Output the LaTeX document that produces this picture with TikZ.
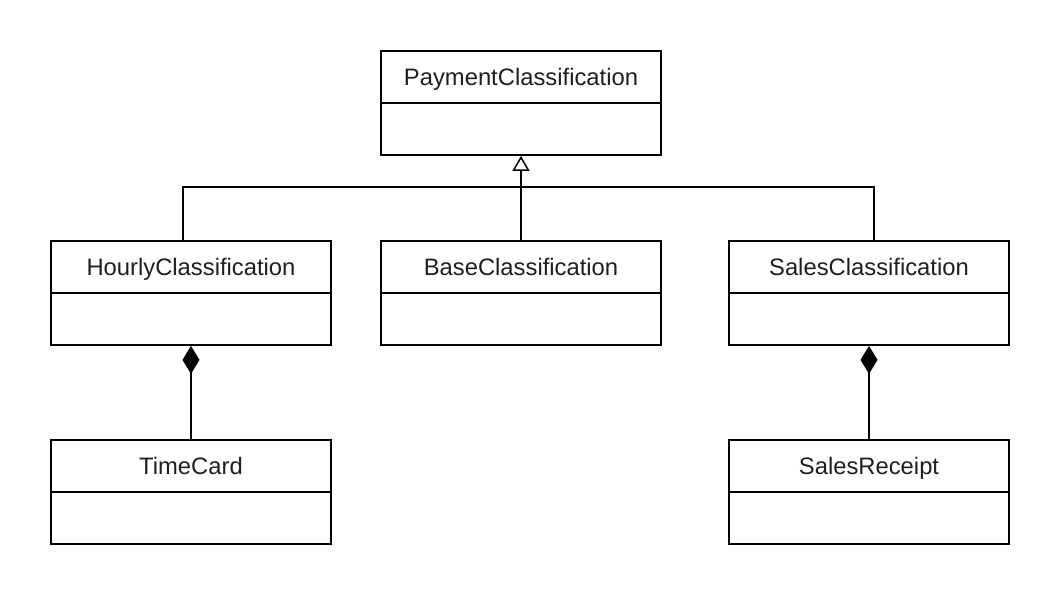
\documentclass[tikz,border=0pt]{standalone}
\usepackage{fontspec}
\setmainfont{Liberation Sans}
\usetikzlibrary{arrows.meta,calc}
\begin{document}
\begin{tikzpicture}[x=1pt,y=-1pt,
  line width=1.8pt,
  hdr/.style={draw,minimum width=280pt,minimum height=52pt,inner sep=0pt,
    text height=16.5pt,text depth=0pt,
    font=\fontsize{23.8}{28}\selectfont,text=black!88},
  bdy/.style={draw,minimum width=280pt,minimum height=52pt,inner sep=0pt},
  inh/.style={-{Triangle[open,width=17pt,length=15pt,line width=1.5pt]}},
  comp/.style={{Diamond[width=17pt,length=28pt]}-}]
\fill[white] (0,0) rectangle (1060,596);
\useasboundingbox (0,0) rectangle (1060,596);
% PaymentClassification
\node[hdr] (pch) at (521,77) {PaymentClassification};
\node[bdy] (pcb) at (521,129) {};
% HourlyClassification
\node[hdr] (hch) at (191,267) {HourlyClassification};
\node[bdy] (hcb) at (191,319) {};
% BaseClassification
\node[hdr] (bch) at (521,267) {BaseClassification};
\node[bdy] (bcb) at (521,319) {};
% SalesClassification
\node[hdr] (sch) at (869,267) {SalesClassification};
\node[bdy] (scb) at (869,319) {};
% TimeCard
\node[hdr] (tch) at (191,466) {TimeCard};
\node[bdy] (tcb) at (191,518) {};
% SalesReceipt
\node[hdr] (srh) at (869,466) {SalesReceipt};
\node[bdy] (srb) at (869,518) {};
% inheritance
\coordinate (j) at (521,187);
\draw ([xshift=-8pt]hch.north) |- (j) -| ([xshift=5pt]sch.north);
\draw[inh] (bch.north) -- (pcb.south);
% composition
\draw[comp] (hcb.south) -- (tch.north);
\draw[comp] (scb.south) -- (srh.north);
\end{tikzpicture}
\end{document}
